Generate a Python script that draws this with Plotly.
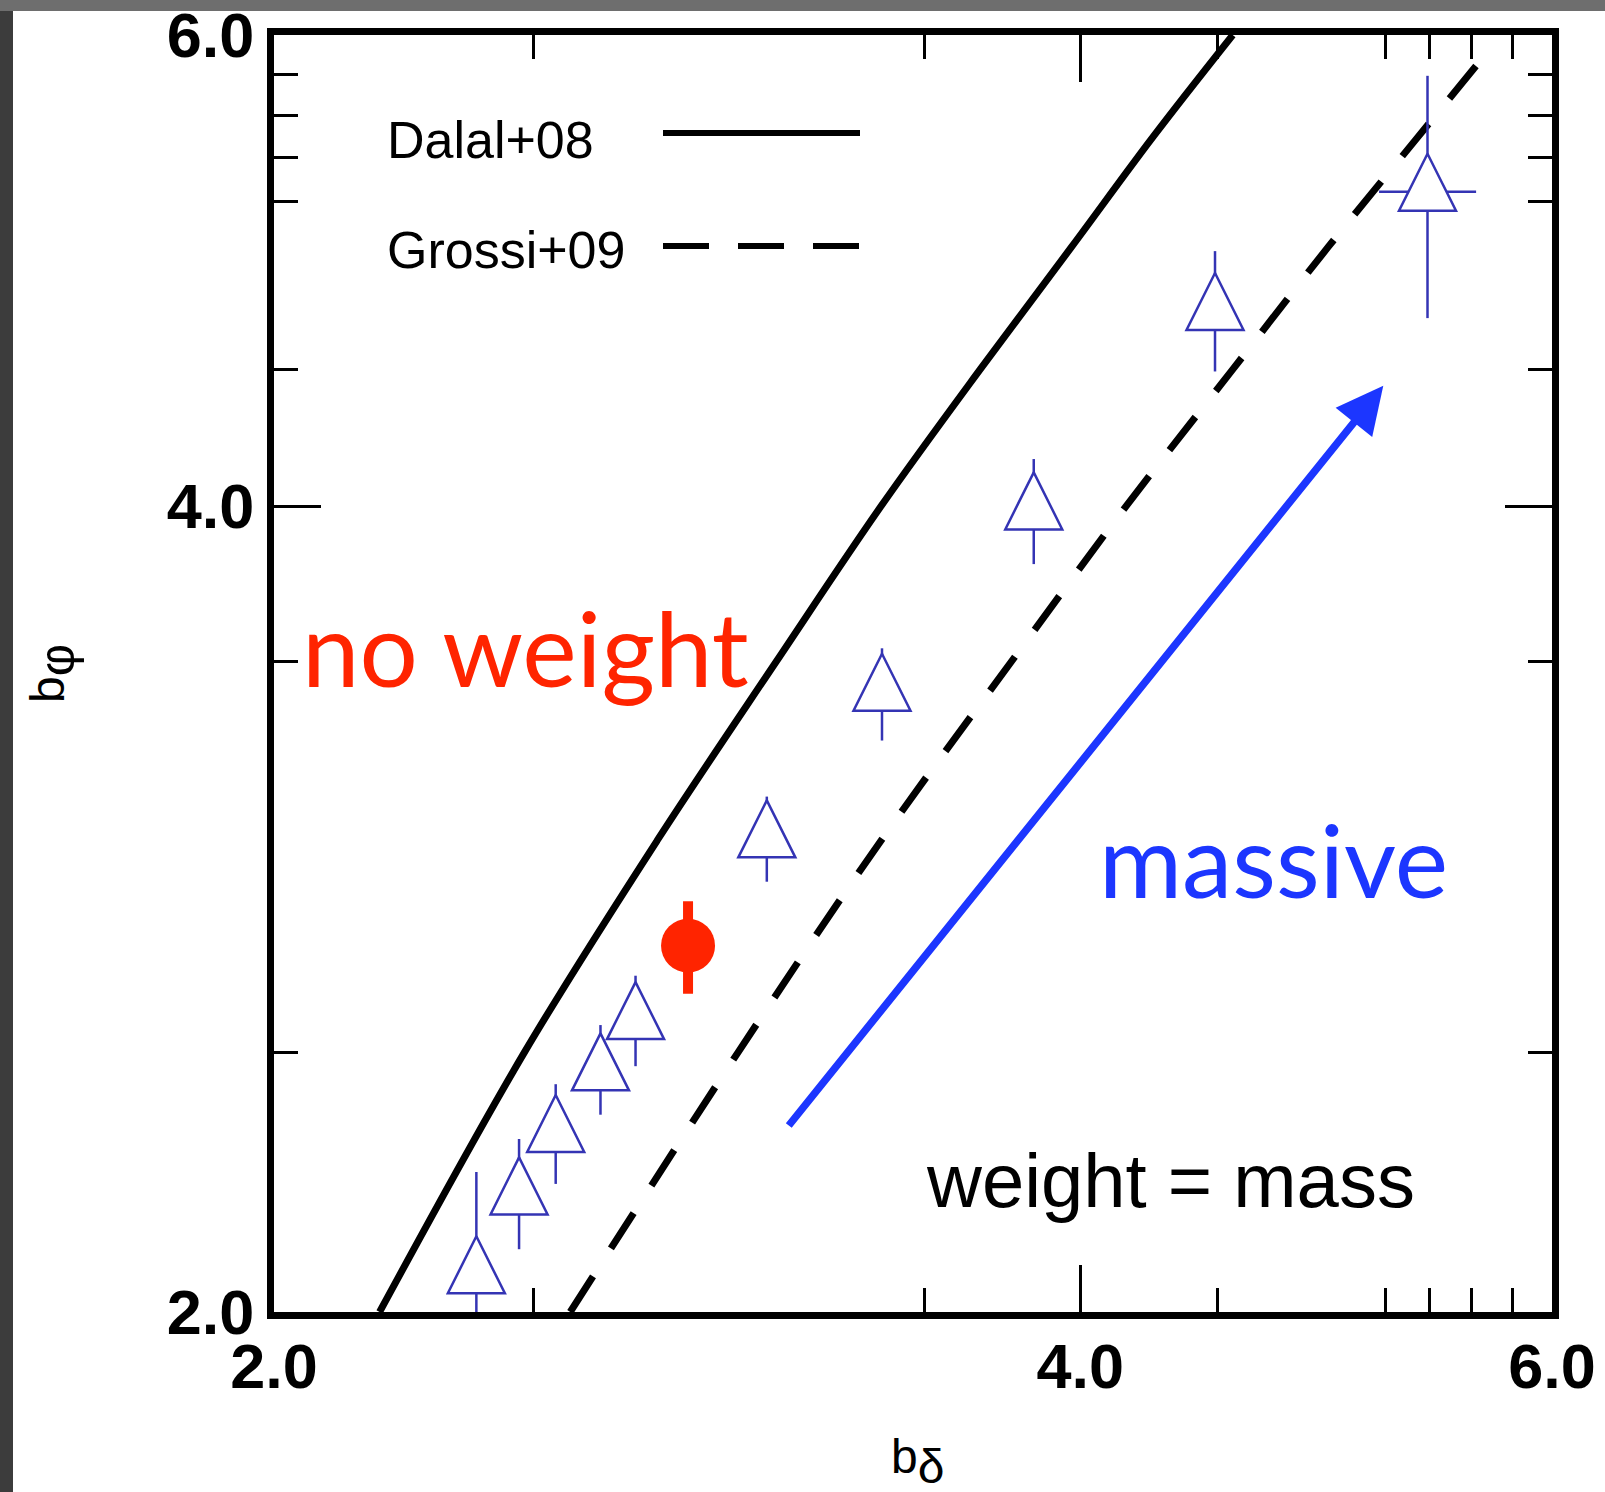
import numpy as np
import plotly.graph_objects as go

# ---------------- data ----------------
# weight = mass halo samples (blue open triangles)
b_delta = [2.380, 2.469, 2.548, 2.648, 2.729, 3.055, 3.373, 3.843, 4.491, 5.391]
b_phi = [2.066, 2.211, 2.333, 2.460, 2.571, 3.006, 3.410, 3.986, 4.732, 5.243]
b_phi_err_plus = [0.19, 0.11, 0.10, 0.10, 0.10, 0.11, 0.13, 0.18, 0.25, 0.55]
b_phi_err_minus = [0.19, 0.10, 0.10, 0.09, 0.10, 0.11, 0.14, 0.18, 0.24, 0.54]
b_delta_err_plus = [0, 0, 0, 0, 0, 0, 0, 0, 0, 0.23]
b_delta_err_minus = [0, 0, 0, 0, 0, 0, 0, 0, 0, 0.22]

# no weight point (red filled circle)
nw_b_delta = [2.855]
nw_b_phi = [2.741]
nw_err_plus = [0.107]
nw_err_minus = [0.111]

# model curves
dalal_b_phi = [2.0, 2.5, 3.0, 3.5, 4.0, 4.5, 5.0, 5.5, 6.0]
dalal_b_delta = [2.19, 2.48, 2.78, 3.08, 3.37, 3.67, 3.97, 4.26, 4.56]
grossi_b_phi = [2.0, 2.5, 3.0, 3.5, 4.0, 4.5, 5.0, 5.5, 5.88]
grossi_b_delta = [2.58, 2.98, 3.37, 3.77, 4.16, 4.56, 4.95, 5.35, 5.65]

# "massive" arrow (tail -> head), data units
arrow_tail = [3.11, 2.345]
arrow_head = [5.19, 4.437]

labelled_ticks = [2, 4, 6]
labelled_text = ["2.0", "4.0", "6.0"]
unlabelled_major_ticks = [3, 5]
minor_ticks = [2.5, 3.5, 4.5, 5.2, 5.4, 5.6, 5.8]

# ---------------- layout geometry ----------------
W, H = 1605, 1492
L, R, T, B = 274, 1552, 35, 1312
PW, PH = R - L, B - T


def px(xp):
    return (xp - L) / PW


def py(yp):
    return (B - yp) / PH


TRI_BLUE = "#3434b4"
RED = "#ff2400"
BLUE = "#1c36ff"

fig = go.Figure()

fig.add_trace(go.Scatter(
    x=dalal_b_delta, y=dalal_b_phi, mode="lines",
    line=dict(color="black", width=7, shape="spline", smoothing=1),
    name="Dalal+08", showlegend=False))
fig.add_trace(go.Scatter(
    x=grossi_b_delta, y=grossi_b_phi, mode="lines",
    line=dict(color="black", width=7, dash="42px,33px", shape="spline", smoothing=1),
    name="Grossi+09", showlegend=False))

msize = 57
fig.add_trace(go.Scatter(
    x=b_delta, y=b_phi, mode="markers",
    marker=dict(symbol="arrow-down", angle=180, standoff=msize * 2 / 3, size=msize,
                color="white", line=dict(color=TRI_BLUE, width=2.5)),
    error_y=dict(type="data", symmetric=False, array=b_phi_err_plus,
                 arrayminus=b_phi_err_minus, color=TRI_BLUE, thickness=2.5, width=0),
    error_x=dict(type="data", symmetric=False, array=b_delta_err_plus,
                 arrayminus=b_delta_err_minus, color=TRI_BLUE, thickness=2.5, width=0),
    showlegend=False))

fig.add_trace(go.Scatter(
    x=nw_b_delta, y=nw_b_phi, mode="markers",
    marker=dict(symbol="circle", size=54, color=RED, line=dict(width=0)),
    error_y=dict(type="data", symmetric=False, array=nw_err_plus,
                 arrayminus=nw_err_minus, color=RED, thickness=10, width=0),
    showlegend=False))

rng = [np.log10(2), np.log10(6)]
tickfont = dict(family="Liberation Sans", size=63, color="black", weight="bold")
axis_common = dict(
    type="log", range=rng, showline=True, linewidth=7, linecolor="black", mirror="ticks",
    ticks="inside", ticklen=47, tickwidth=3, tickcolor="black",
    tickmode="array", tickvals=labelled_ticks, ticktext=labelled_text,
    minor=dict(tickmode="array", tickvals=minor_ticks, ticks="inside", ticklen=24,
               tickwidth=3, tickcolor="black", showgrid=False),
    showgrid=False, zeroline=False, tickfont=tickfont, ticklabeloverflow="allow",
    automargin=False,
)
overlay_common = dict(
    type="log", range=rng, showline=True, linewidth=7, linecolor="black", mirror="ticks",
    ticks="inside", ticklen=47, tickwidth=3, tickcolor="black",
    tickmode="array", tickvals=unlabelled_major_ticks, showticklabels=False,
    showgrid=False, zeroline=False, automargin=False,
)

title_font = dict(family="Liberation Sans", size=48, color="black")
fig.update_layout(
    xaxis=dict(**axis_common, ticklabelstandoff=-7),
    yaxis=dict(**axis_common,
               title=dict(text="b<sub><span style='font-size:50px'>φ</span></sub>",
                          font=title_font, standoff=90)),
    xaxis2=dict(**overlay_common, overlaying="x", anchor="y", side="bottom"),
    yaxis2=dict(**overlay_common, overlaying="y", anchor="x", side="left"),
)

annotations = [
    # x axis title (b_delta)
    dict(x=px(918), y=py(1428), xref="paper", yref="paper",
         text="b<sub><span style='font-size:48px'>δ</span></sub>",
         showarrow=False, xanchor="center", yanchor="top", font=title_font),
    dict(x=px(525), y=py(647), xref="paper", yref="paper", text="no weight",
         showarrow=False, xanchor="center", yanchor="middle",
         font=dict(family="Lato", size=103, color=RED)),
    dict(x=px(1273), y=py(859), xref="paper", yref="paper", text="massive",
         showarrow=False, xanchor="center", yanchor="middle",
         font=dict(family="Lato", size=101, color=BLUE)),
    dict(x=px(1170), y=py(1180), xref="paper", yref="paper", text="weight = mass",
         showarrow=False, xanchor="center", yanchor="middle",
         font=dict(family="Liberation Sans", size=76, color="black")),
    dict(x=px(385), y=py(140), xref="paper", yref="paper", text="Dalal+08",
         showarrow=False, xanchor="left", yanchor="middle",
         font=dict(family="Liberation Sans", size=52, color="black")),
    dict(x=px(385), y=py(250), xref="paper", yref="paper", text="Grossi+09",
         showarrow=False, xanchor="left", yanchor="middle",
         font=dict(family="Liberation Sans", size=52, color="black")),
    dict(x=np.log10(arrow_head[0]), y=np.log10(arrow_head[1]),
         ax=np.log10(arrow_tail[0]), ay=np.log10(arrow_tail[1]),
         xref="x", yref="y", axref="x", ayref="y", text="", showarrow=True,
         arrowhead=2, arrowsize=1.25, arrowwidth=7.5, arrowcolor=BLUE),
]

shapes = [
    # legend line samples
    dict(type="line", xref="paper", yref="paper", x0=px(663), x1=px(860),
         y0=py(133), y1=py(133), line=dict(color="black", width=6)),
    dict(type="line", xref="paper", yref="paper", x0=px(663), x1=px(860),
         y0=py(246), y1=py(246), line=dict(color="black", width=6, dash="46px,29px")),
    # dark backdrop strips around the pasted figure
    dict(type="rect", xref="paper", yref="paper", x0=px(0), x1=px(13), y0=py(H),
         y1=py(0), fillcolor="#3c3c3c", line=dict(width=0), layer="below"),
    dict(type="rect", xref="paper", yref="paper", x0=px(0), x1=px(W), y0=py(11),
         y1=py(0), fillcolor="#6e6e6e", line=dict(width=0), layer="below"),
]

fig.update_layout(
    width=W, height=H,
    margin=dict(l=L, r=W - R, t=T, b=H - B, pad=0, autoexpand=False),
    paper_bgcolor="white", plot_bgcolor="white",
    annotations=annotations, shapes=shapes, showlegend=False,
)

fig.write_html("out.html", config={"displayModeBar": False},
               post_script="document.body.style.margin='0';")
